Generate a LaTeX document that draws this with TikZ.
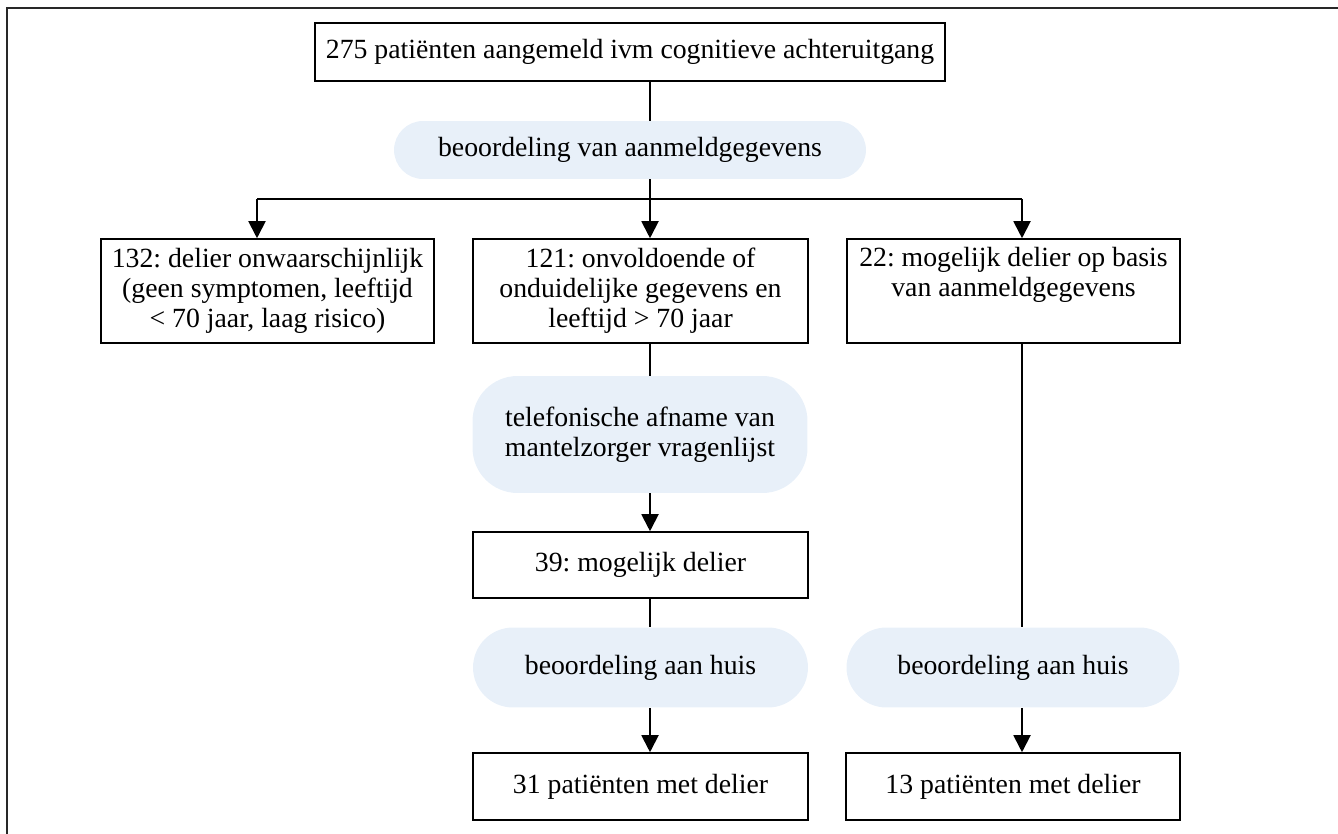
\documentclass[tikz,border=0pt]{standalone}
\usepackage{fontspec}
\setmainfont{Liberation Serif}
\usetikzlibrary{arrows.meta}
\frenchspacing

\definecolor{ovalblue}{RGB}{232,240,249}
\definecolor{framegray}{RGB}{40,40,40}

\tikzset{
    box/.style={draw, line width=0.9pt, minimum width=6.7cm, minimum height=2.08cm,
        align=center, inner sep=0pt},
    oval/.style={fill=ovalblue, minimum width=6.7cm, align=center, inner sep=0pt},
    link/.style={line width=1.1pt},
    arr/.style={link, -{Triangle[width=0.34cm,length=0.34cm]}}
}

\begin{document}
\begin{tikzpicture}[x=0.02cm, y=-0.02cm, font=\fontsize{15.8}{17.1}\selectfont]
    \useasboundingbox (0,0) rectangle (1338,834);

    % Frame
    \draw[framegray, line width=1.1pt] (7,834) -- (7,8) -- (1338,8);

    % Intake
    \node[box, minimum width=12.6cm, minimum height=1.16cm] (intake) at (630,52)
        {275 patiënten aangemeld ivm cognitieve achteruitgang};
    \node[oval, minimum width=9.44cm, minimum height=1.16cm, rounded corners=0.58cm] (review) at (630,150)
        {beoordeling van aanmeldgegevens};

    % Three groups
    \node[box, minimum width=6.66cm] (unlikely) at (267.5,291)
        {132: delier onwaarschijnlijk\\(geen symptomen, leeftijd\\< 70 jaar, laag risico)};
    \node[box] (unclear) at (640.5,291)
        {121: onvoldoende of\\onduidelijke gegevens en\\leeftijd > 70 jaar};
    \node[box, minimum width=6.66cm] (possible) at (1013.5,291)
        {22: mogelijk delier op basis\\van aanmeldgegevens\\\strut};

    % Middle column
    \node[oval, minimum height=2.34cm, rounded corners=0.9cm] (phone) at (640,434.5)
        {telefonische afname van\\mantelzorger vragenlijst};
    \node[box, minimum height=1.32cm] (maybe) at (640.5,565) {39: mogelijk delier};
    \node[oval, minimum height=1.6cm, rounded corners=0.8cm] (homeL) at (640.5,667.5)
        {beoordeling aan huis};
    \node[box, minimum height=1.34cm] (deliriumL) at (640.5,786.5) {31 patiënten met delier};

    % Right column
    \node[oval, minimum width=6.66cm, minimum height=1.6cm, rounded corners=0.8cm] (homeR) at (1013,667.5)
        {beoordeling aan huis};
    \node[box, minimum width=6.68cm, minimum height=1.34cm] (deliriumR) at (1013,786.5)
        {13 patiënten met delier};

    % Connectors
    \coordinate (split) at (650,199);
    \coordinate (splitL) at (257,199);
    \coordinate (splitR) at (1022,199);

    \draw[link] (intake.south -| split) -- (review.north -| split);
    \draw[link] (review.south -| split) -- (split);
    \draw[link] (splitL) -- (splitR);
    \draw[arr] (splitL) -- (splitL |- unlikely.north);
    \draw[arr] (split) -- (split |- unclear.north);
    \draw[arr] (splitR) -- (splitR |- possible.north);

    \draw[link] (unclear.south -| split) -- (phone.north -| split);
    \draw[arr] (phone.south -| split) -- (maybe.north -| split);
    \draw[link] (maybe.south -| split) -- (homeL.north -| split);
    \draw[arr] (homeL.south -| split) -- (deliriumL.north -| split);

    \draw[link] (possible.south -| splitR) -- (homeR.north -| splitR);
    \draw[arr] (homeR.south -| splitR) -- (deliriumR.north -| splitR);
\end{tikzpicture}
\end{document}
